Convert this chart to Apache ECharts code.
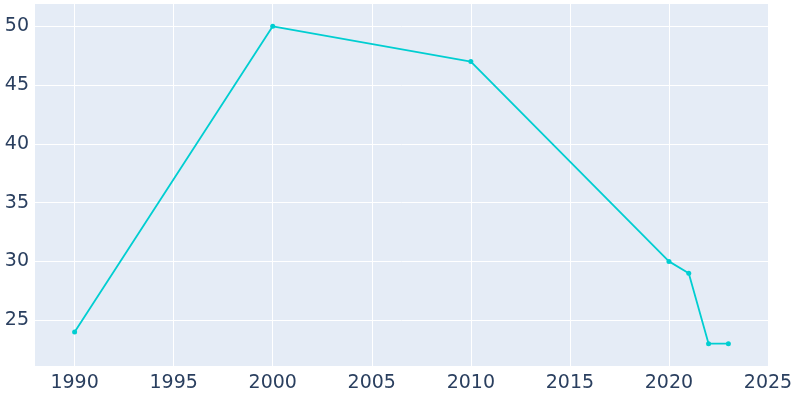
<!DOCTYPE html>
<html><head><meta charset="utf-8">
<script src="https://cdn.jsdelivr.net/npm/echarts@6/dist/echarts.min.js"></script>
<style>html,body{margin:0;padding:0;background:#fff}#c{width:800px;height:400px}</style>
</head><body><div id="c"></div>
<script>
const years = [1990, 2000, 2010, 2020, 2021, 2022, 2023];
const population = [24, 50, 47, 30, 29, 23, 23];
const xTicks = [1990, 1995, 2000, 2005, 2010, 2015, 2020, 2025];
const yTicks = [25, 30, 35, 40, 45, 50];
const font = {fontFamily: 'DejaVu Sans', fontSize: 19, color: '#2a3f5f'};
const chart = echarts.init(document.getElementById('c'));
chart.setOption({
  animation: false,
  grid: {left: 35, right: 32, top: 4, bottom: 34, show: true, backgroundColor: '#E5ECF6', borderWidth: 0},
  xAxis: {type: 'value', min: 1988, max: 2025,
    axisLine: {show: false}, axisTick: {show: false, customValues: xTicks},
    axisLabel: Object.assign({customValues: xTicks, margin: 8, formatter: v => String(v)}, font),
    splitLine: {show: true, lineStyle: {color: '#fff', width: 1}}},
  yAxis: {type: 'value', min: 21.1, max: 51.9,
    axisLine: {show: false}, axisTick: {show: false, customValues: yTicks},
    axisLabel: Object.assign({customValues: yTicks, margin: 6, formatter: v => String(v)}, font),
    splitLine: {show: true, lineStyle: {color: '#fff', width: 1}}},
  series: [{type: 'line', data: years.map((y, i) => [y, population[i]]),
    lineStyle: {color: '#00CED1', width: 1.8}, itemStyle: {color: '#00CED1'},
    symbol: 'circle', symbolSize: 5}]
});
</script></body></html>
